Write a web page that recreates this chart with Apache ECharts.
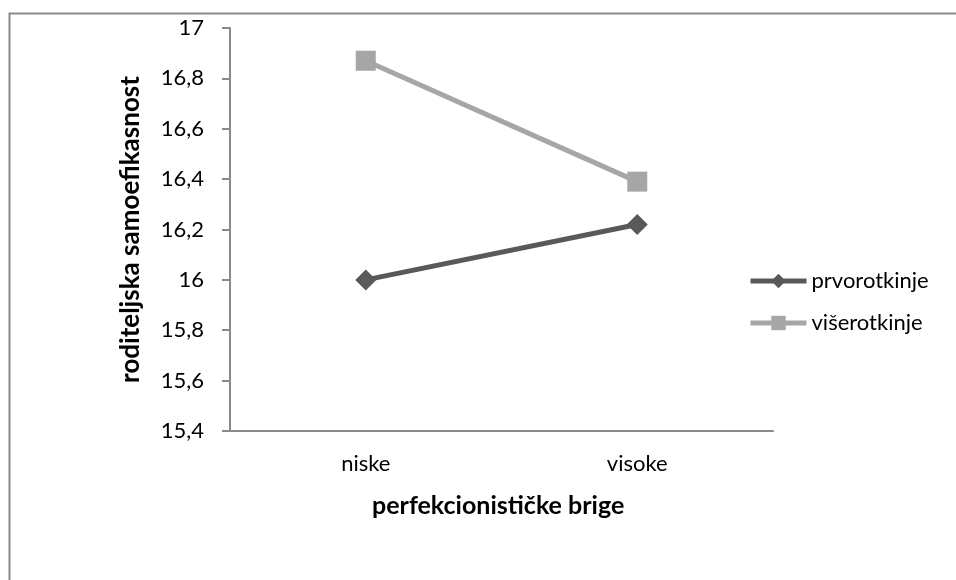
<!DOCTYPE html>
<html>
<head>
<meta charset="utf-8">
<script src="https://cdn.jsdelivr.net/npm/echarts@6/dist/echarts.min.js"></script>
<style>html,body{margin:0;padding:0;background:#fff}#c{width:956px;height:580px}</style>
</head>
<body>
<div id="c"></div>
<script>
const categories = ['niske', 'visoke'];
const prvorotkinje = [16.0, 16.22];
const viserotkinje = [16.87, 16.39];
const seriesNames = ['prvorotkinje', 'višerotkinje'];
const yTitle = 'roditeljska samoefikasnost';
const xTitle = 'perfekcionističke brige';

const font = 'Lato, "Open Sans", sans-serif';
const chart = echarts.init(document.getElementById('c'));
chart.setOption({
  animation: false,
  backgroundColor: '#fff',
  graphic: [{
    type: 'rect', left: 7, top: 11, silent: true,
    shape: { width: 948, height: 620 },
    style: { fill: 'none', stroke: '#8a8a8a', lineWidth: 2 }
  }, {
    type: 'text', left: 372, top: 493,
    style: { text: xTitle, font: 'bold 25px ' + font, fill: '#000' }
  }],
  grid: { left: 230, right: 183, top: 28, bottom: 149 },
  legend: {
    orient: 'vertical', left: 748, top: 270, itemGap: 20, padding: 0,
    itemWidth: 56, itemHeight: 18,
    lineStyle: { width: 5 },
    textStyle: { fontFamily: font, fontSize: 22, color: '#000' },
    data: seriesNames
  },
  xAxis: {
    type: 'category', data: categories, boundaryGap: true,
    axisLine: { lineStyle: { color: '#8a8a8a', width: 2 } },
    axisTick: { show: false },
    axisLabel: { fontFamily: font, fontSize: 22, color: '#000', margin: 22 }
  },
  yAxis: {
    type: 'value', min: 15.4, max: 17, interval: 0.2,
    name: yTitle, nameLocation: 'middle', nameGap: 86,
    nameTextStyle: { fontFamily: font, fontSize: 26, fontWeight: 'bold', color: '#000' },
    axisLine: { show: true, lineStyle: { color: '#8a8a8a', width: 2 } },
    axisTick: { show: true, length: 8, inside: false, lineStyle: { color: '#8a8a8a', width: 2 } },
    splitLine: { show: false },
    axisLabel: {
      fontFamily: font, fontSize: 22, color: '#000', margin: 26,
      formatter: v => String(Math.round(v * 10) / 10).replace('.', ',')
    }
  },
  series: [{
    name: seriesNames[0], type: 'line', data: prvorotkinje,
    symbol: 'diamond', symbolSize: 21,
    lineStyle: { color: '#595959', width: 5 },
    itemStyle: { color: '#595959' }
  }, {
    name: seriesNames[1], type: 'line', data: viserotkinje,
    symbol: 'rect', symbolSize: 20,
    lineStyle: { color: '#a6a6a6', width: 5 },
    itemStyle: { color: '#a6a6a6' }
  }]
});
</script>
</body>
</html>
